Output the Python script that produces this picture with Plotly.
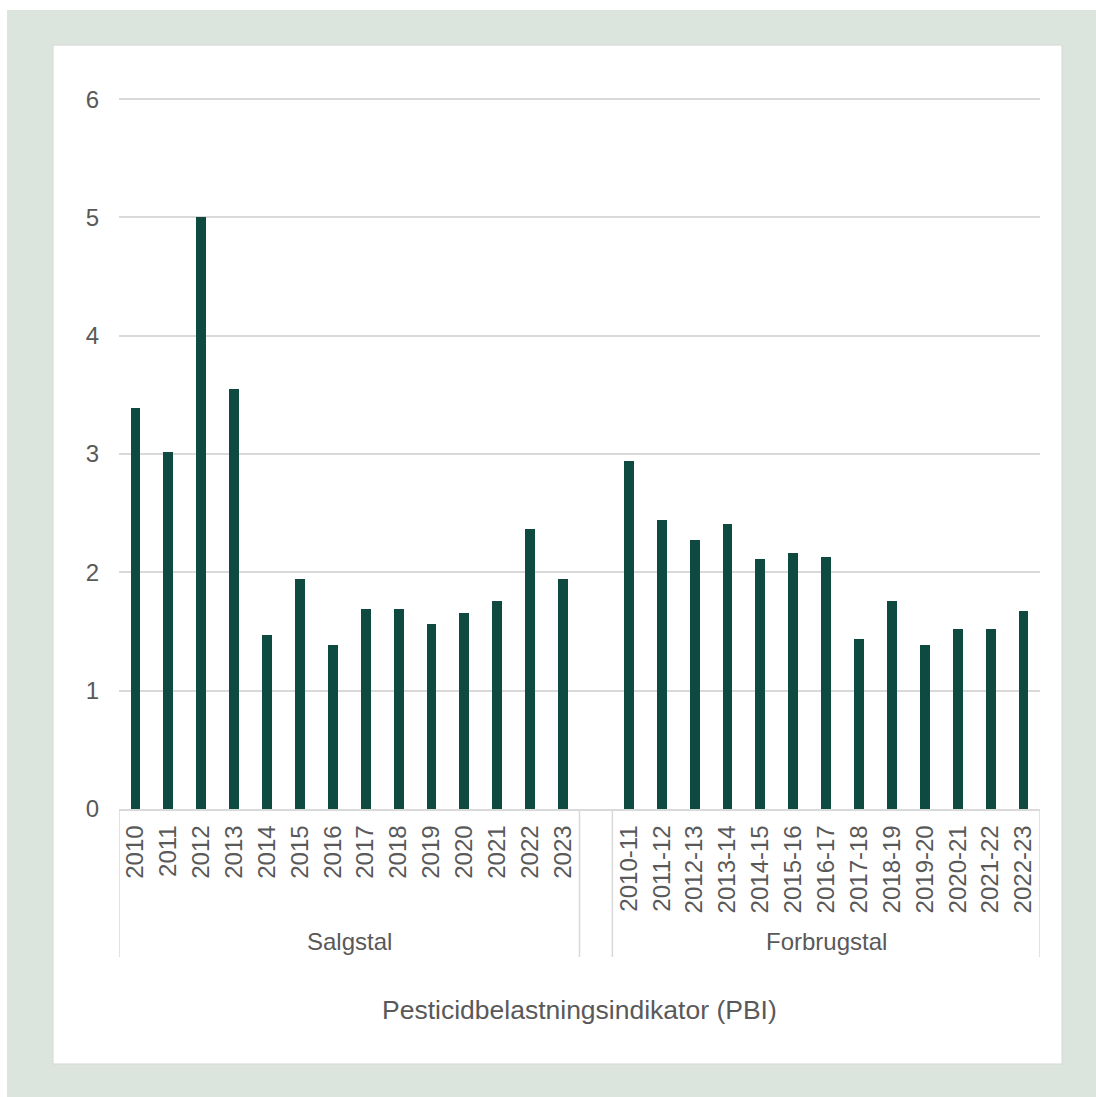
import plotly.graph_objects as go

salg_labels = ["2010","2011","2012","2013","2014","2015","2016","2017","2018","2019","2020","2021","2022","2023"]
salg_values = [3.39,3.02,5.00,3.55,1.47,1.94,1.39,1.69,1.69,1.56,1.66,1.76,2.37,1.94]
forb_labels = ["2010-11","2011-12","2012-13","2013-14","2014-15","2015-16","2016-17","2017-18","2018-19","2019-20","2020-21","2021-22","2022-23"]
forb_values = [2.94,2.44,2.27,2.41,2.11,2.16,2.13,1.44,1.76,1.39,1.52,1.52,1.67]
group_names = ["Salgstal", "Forbrugstal"]
axis_title = "Pesticidbelastningsindikator (PBI)"
y_ticks = [0,1,2,3,4,5,6]

W, H = 1096, 1097
YMAX = 6.06
# pixel positions of plot edges; y=6 sits at px 99
L, R, B = 119, 1040, 809
PX_PER_UNIT = (809 - 99) / 6
T = B - PX_PER_UNIT * YMAX
BAR = "#0f4a40"
TXT = "#595959"
GRID = "#d9d9d9"
FONT = "Liberation Sans, Arial, sans-serif"

def px_x(p):
    return (p - L) / (R - L)

def px_y(p):
    return (B - p) / (B - T)

n1 = len(salg_labels)
x1 = list(range(n1))
x2 = [n1 + 1 + i for i in range(len(forb_labels))]
ncat = n1 + 1 + len(forb_labels)

fig = go.Figure()
fig.add_trace(go.Bar(x=x1 + x2, y=salg_values + forb_values, width=0.3,
                     marker=dict(color=BAR, line=dict(width=0)), showlegend=False))

shapes = [
    dict(type="rect", xref="paper", yref="paper", x0=px_x(7), x1=px_x(1110), y0=px_y(10), y1=px_y(1110),
         fillcolor="#dce5dd", line=dict(width=0), layer="below"),
    dict(type="rect", xref="paper", yref="paper", x0=px_x(53), x1=px_x(1062), y0=px_y(45), y1=px_y(1064),
         fillcolor="white", line=dict(color="#d4d8d4", width=1), layer="below"),
]
for xv in [-0.5, n1 - 0.5, n1 + 0.5, ncat - 0.5]:
    shapes.append(dict(type="line", xref="x", yref="paper", x0=xv, x1=xv, y0=0, y1=px_y(957),
                       line=dict(color=GRID, width=1.5), layer="above"))

annotations = [
    dict(text=group_names[0], x=(n1 - 1) / 2, xref="x", y=px_y(942), yref="paper", showarrow=False,
         font=dict(size=24, color=TXT, family=FONT), yanchor="middle"),
    dict(text=group_names[1], x=(x2[0] + x2[-1]) / 2, xref="x", y=px_y(942), yref="paper", showarrow=False,
         font=dict(size=24, color=TXT, family=FONT), yanchor="middle"),
    dict(text=axis_title, x=0.5, xref="paper", y=px_y(1010), yref="paper", showarrow=False,
         font=dict(size=26.5, color=TXT, family=FONT), yanchor="middle"),
]

fig.update_layout(
    width=W, height=H,
    margin=dict(l=L, r=W - R, t=T, b=H - B, pad=0),
    paper_bgcolor="white", plot_bgcolor="rgba(0,0,0,0)",
    shapes=shapes, annotations=annotations,
    font=dict(family=FONT, color=TXT),
    bargap=0,
)
fig.update_xaxes(range=[-0.5, ncat - 0.5], tickvals=x1 + x2, ticktext=salg_labels + forb_labels,
                 tickangle=-90, tickfont=dict(size=24, color=TXT, family=FONT),
                 showgrid=False, zeroline=False, showline=True, linecolor=GRID, linewidth=1.5,
                 ticks="", ticklabelstandoff=5)
fig.update_yaxes(range=[0, YMAX], tickvals=y_ticks, tickfont=dict(size=24, color=TXT, family=FONT),
                 showgrid=True, gridcolor=GRID, gridwidth=1.5, zeroline=False, showline=False,
                 ticks="", ticklabelstandoff=19)

fig.write_html("out.html", config={"displayModeBar": False},
               post_script="document.body.style.margin='0';document.body.style.overflow='hidden';")
